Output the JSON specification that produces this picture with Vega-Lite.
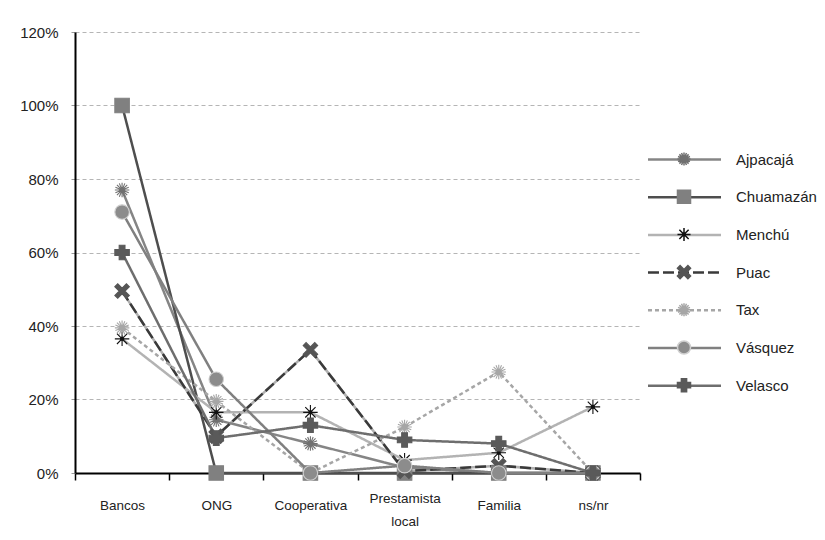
{
  "$schema": "https://vega.github.io/schema/vega-lite/v6.json",
  "width": 565,
  "height": 441,
  "autosize": {"type": "none"},
  "padding": {"left": 75, "top": 32, "right": 185, "bottom": 67},
  "background": "white",
  "config": {
    "view": {"stroke": null},
    "font": "'Liberation Sans', sans-serif"
  },
  "data": {
    "values": [
      {"serie": "Ajpacajá", "fuente": "Bancos", "valor": 0.77},
      {"serie": "Ajpacajá", "fuente": "ONG", "valor": 0.145},
      {"serie": "Ajpacajá", "fuente": "Cooperativa", "valor": 0.08},
      {"serie": "Ajpacajá", "fuente": "Prestamista local", "valor": 0.015},
      {"serie": "Ajpacajá", "fuente": "Familia", "valor": 0},
      {"serie": "Ajpacajá", "fuente": "ns/nr", "valor": 0},
      {"serie": "Chuamazán", "fuente": "Bancos", "valor": 1.0},
      {"serie": "Chuamazán", "fuente": "ONG", "valor": 0},
      {"serie": "Chuamazán", "fuente": "Cooperativa", "valor": 0},
      {"serie": "Chuamazán", "fuente": "Prestamista local", "valor": 0},
      {"serie": "Chuamazán", "fuente": "Familia", "valor": 0},
      {"serie": "Chuamazán", "fuente": "ns/nr", "valor": 0},
      {"serie": "Menchú", "fuente": "Bancos", "valor": 0.365},
      {"serie": "Menchú", "fuente": "ONG", "valor": 0.165},
      {"serie": "Menchú", "fuente": "Cooperativa", "valor": 0.165},
      {"serie": "Menchú", "fuente": "Prestamista local", "valor": 0.035},
      {"serie": "Menchú", "fuente": "Familia", "valor": 0.055},
      {"serie": "Menchú", "fuente": "ns/nr", "valor": 0.18},
      {"serie": "Puac", "fuente": "Bancos", "valor": 0.495},
      {"serie": "Puac", "fuente": "ONG", "valor": 0.10},
      {"serie": "Puac", "fuente": "Cooperativa", "valor": 0.335},
      {"serie": "Puac", "fuente": "Prestamista local", "valor": 0.005},
      {"serie": "Puac", "fuente": "Familia", "valor": 0.02},
      {"serie": "Puac", "fuente": "ns/nr", "valor": 0},
      {"serie": "Tax", "fuente": "Bancos", "valor": 0.395},
      {"serie": "Tax", "fuente": "ONG", "valor": 0.195},
      {"serie": "Tax", "fuente": "Cooperativa", "valor": 0},
      {"serie": "Tax", "fuente": "Prestamista local", "valor": 0.125},
      {"serie": "Tax", "fuente": "Familia", "valor": 0.275},
      {"serie": "Tax", "fuente": "ns/nr", "valor": 0},
      {"serie": "Vásquez", "fuente": "Bancos", "valor": 0.71},
      {"serie": "Vásquez", "fuente": "ONG", "valor": 0.255},
      {"serie": "Vásquez", "fuente": "Cooperativa", "valor": 0},
      {"serie": "Vásquez", "fuente": "Prestamista local", "valor": 0.02},
      {"serie": "Vásquez", "fuente": "Familia", "valor": 0},
      {"serie": "Vásquez", "fuente": "ns/nr", "valor": 0},
      {"serie": "Velasco", "fuente": "Bancos", "valor": 0.60},
      {"serie": "Velasco", "fuente": "ONG", "valor": 0.095},
      {"serie": "Velasco", "fuente": "Cooperativa", "valor": 0.13},
      {"serie": "Velasco", "fuente": "Prestamista local", "valor": 0.09},
      {"serie": "Velasco", "fuente": "Familia", "valor": 0.08},
      {"serie": "Velasco", "fuente": "ns/nr", "valor": 0}
    ]
  },
  "encoding": {
    "x": {
      "field": "fuente",
      "type": "nominal",
      "sort": null,
      "bandPosition": 0.5,
      "scale": {"type": "band", "paddingInner": 0, "paddingOuter": 0},
      "axis": {
        "title": null,
        "labelAngle": 0,
        "tickBand": "extent",
        "grid": false,
        "domainColor": "#000000",
        "domainWidth": 2,
        "tickColor": "#000000",
        "tickSize": 7,
        "tickWidth": 1.5,
        "labelFontSize": 13.5,
        "labelColor": "#222222",
        "labelBaseline": "middle",
        "labelPadding": {"condition": {"test": "datum.value == 'Prestamista local'", "value": 18}, "value": 25},
        "labelLineHeight": 23,
        "labelLimit": 200,
        "labelExpr": "datum.label == 'Prestamista local' ? ['Prestamista', 'local'] : datum.label"
      }
    },
    "y": {
      "field": "valor",
      "type": "quantitative",
      "scale": {"domain": [0, 1.2], "nice": false},
      "axis": {
        "title": null,
        "values": [0, 0.2, 0.4, 0.6, 0.8, 1, 1.2],
        "format": ".0%",
        "grid": true,
        "gridDash": [4, 3],
        "gridColor": "#b5b5b5",
        "gridWidth": 1,
        "domainColor": "#000000",
        "domainWidth": 2,
        "tickColor": "#999999",
        "tickSize": 4,
        "labelFontSize": 15,
        "labelColor": "#222222",
        "labelPadding": 13
      }
    }
  },
  "layer": [
    {
      "transform": [{"filter": "datum.serie === 'Puac'"}],
      "mark": {"type": "line", "color": "#b0b0b0", "strokeWidth": 2.5},
      "encoding": {}
    },
    {
      "mark": {"type": "line", "strokeWidth": 2.5},
      "encoding": {
        "color": {
          "field": "serie",
          "type": "nominal",
          "scale": {
            "domain": ["Ajpacajá", "Chuamazán", "Menchú", "Puac", "Tax", "Vásquez", "Velasco"],
            "range": ["#858585", "#4e4e4e", "#b3b3b3", "#3a3a3a", "#a6a6a6", "#808080", "#6e6e6e"]
          },
          "legend": {
            "title": null,
            "orient": "none",
            "legendX": 601.5,
            "legendY": 119.5,
            "padding": 0,
            "symbolType": "M-5.6,0L5.6,0",
            "symbolSize": 170,
            "symbolStrokeWidth": 2.5,
            "labelFontSize": 15,
            "labelColor": "#222222",
            "labelOffset": 43.5,
            "rowPadding": 21.7
          }
        },
        "strokeDash": {
          "field": "serie",
          "type": "nominal",
          "scale": {
            "domain": ["Ajpacajá", "Chuamazán", "Menchú", "Puac", "Tax", "Vásquez", "Velasco"],
            "range": [[1, 0], [1, 0], [1, 0], [11, 4], [4, 3], [1, 0], [1, 0]]
          }
        }
      }
    },
    {
      "mark": {"type": "point", "filled": true, "size": 210, "strokeWidth": 1.1, "opacity": 1},
      "encoding": {
        "shape": {
          "field": "serie",
          "type": "nominal",
          "sort": ["Ajpacajá", "Chuamazán", "Menchú", "Puac", "Tax", "Vásquez", "Velasco"],
          "scale": {
            "range": [
              "M-1,0L1,0M0,-1L0,1M-0.71,-0.71L0.71,0.71M-0.71,0.71L0.71,-0.71M-0.92,-0.38L0.92,0.38M-0.92,0.38L0.92,-0.38M-0.38,-0.92L0.38,0.92M-0.38,0.92L0.38,-0.92",
              "square",
              "M-1,0L1,0M0,-1L0,1M-0.71,-0.71L0.71,0.71M-0.71,0.71L0.71,-0.71M-0.2,-0.2L0.2,-0.2L0.2,0.2L-0.2,0.2Z",
              "M-1,-0.6L-0.6,-1L0,-0.4L0.6,-1L1,-0.6L0.4,0L1,0.6L0.6,1L0,0.4L-0.6,1L-1,0.6L-0.4,0Z",
              "M-1,0L1,0M0,-1L0,1M-0.71,-0.71L0.71,0.71M-0.71,0.71L0.71,-0.71M-0.92,-0.38L0.92,0.38M-0.92,0.38L0.92,-0.38M-0.38,-0.92L0.38,0.92M-0.38,0.92L0.38,-0.92",
              "circle",
              "cross"
            ]
          },
          "legend": {
            "title": null,
            "orient": "none",
            "legendX": 601.5,
            "legendY": 119.5,
            "padding": 0,
            "symbolSize": 170,
            "symbolStrokeWidth": 1.5,
            "symbolFillColor": {"expr": "datum.value === 'Ajpacajá' ? '#7a7a7a' : datum.value === 'Chuamazán' ? '#808080' : datum.value === 'Menchú' ? '#111111' : datum.value === 'Puac' ? '#555555' : datum.value === 'Tax' ? '#a6a6a6' : datum.value === 'Vásquez' ? '#8c8c8c' : '#5a5a5a'"},
            "symbolStrokeColor": {"expr": "datum.value === 'Ajpacajá' ? '#707070' : datum.value === 'Chuamazán' ? '#808080' : datum.value === 'Menchú' ? '#111111' : datum.value === 'Puac' ? '#555555' : datum.value === 'Tax' ? '#a6a6a6' : datum.value === 'Vásquez' ? '#cfcfcf' : '#5a5a5a'"},
            "labelFontSize": 15,
            "labelOpacity": 0,
            "labelOffset": 43.5,
            "rowPadding": 16.7
          }
        },
        "fill": {
          "field": "serie",
          "type": "nominal",
          "sort": ["Ajpacajá", "Chuamazán", "Menchú", "Puac", "Tax", "Vásquez", "Velasco"],
          "scale": {"range": ["#7a7a7a", "#808080", "#111111", "#555555", "#a6a6a6", "#8c8c8c", "#5a5a5a"]},
          "legend": null
        },
        "stroke": {
          "field": "serie",
          "type": "nominal",
          "sort": ["Ajpacajá", "Chuamazán", "Menchú", "Puac", "Tax", "Vásquez", "Velasco"],
          "scale": {"range": ["#707070", "#808080", "#111111", "#555555", "#a6a6a6", "#cfcfcf", "#5a5a5a"]},
          "legend": null
        }
      }
    }
  ]
}
